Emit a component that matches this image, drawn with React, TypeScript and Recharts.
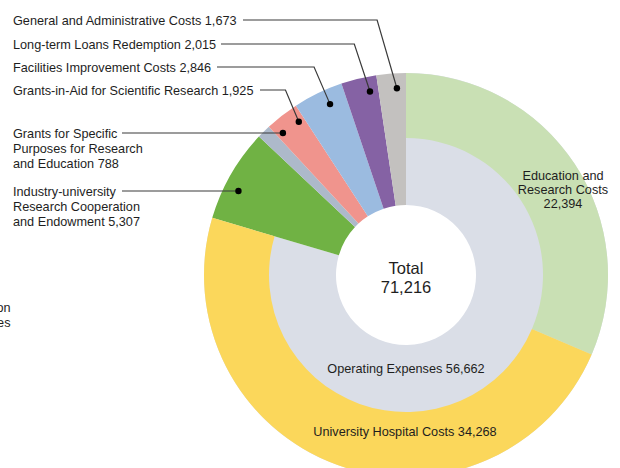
import React from "react";
import { PieChart, Pie, Cell } from "recharts";

// ---- data ----
const outerNames = ["Education and Research Costs", "University Hospital Costs"];
const outerValues = [22394, 34268];
const outerColors = ["#C9E0B4", "#FBD75B"];

const innerNames = [
  "Operating Expenses",
  "Industry-university Research Cooperation and Endowment",
  "Grants for Specific Purposes for Research and Education",
  "Grants-in-Aid for Scientific Research",
  "Facilities Improvement Costs",
  "Long-term Loans Redemption",
  "General and Administrative Costs",
];
const innerValues = [56662, 5307, 788, 1925, 2846, 2015, 1673];
const innerColors = ["#DADEE7", "#70B244", "#ADB9CA", "#F0948D", "#9BBBE0", "#8562A4", "#C3C1BF"];

// label line splits (text only)
const innerLabelLines = [
  ["Operating Expenses"],
  ["Industry-university", "Research Cooperation", "and Endowment"],
  ["Grants for Specific", "Purposes for Research", "and Education"],
  ["Grants-in-Aid for Scientific Research"],
  ["Facilities Improvement Costs"],
  ["Long-term Loans Redemption"],
  ["General and Administrative Costs"],
];
const outerLabelLines = [["Education and", "Research Costs"], ["University Hospital Costs"]];
const totalLabel = "Total";
const croppedLines = ["Operation", "Expenses"];

// ---- layout ----
const W = 620;
const H = 468;
const CX = 406;
const CY = 275;
const R_HOLE = 70;
const R_MID = 137;
const R_OUT = 202;
const FONT = "'Liberation Sans', Arial, Helvetica, sans-serif";
const FS = 12.7;
const TEXT = "#1e1e1e";
const LINE = "#3a3a3a";

// per-index leader layout (inner pie indices 1..6)
const leaderLayout: Record<number, { y: number; from: number; frac: number; elbowK: number | null }> = {
  1: { y: 191, from: 122, frac: 0.37, elbowK: null },
  2: { y: 133, from: 122, frac: 1.4, elbowK: null },
  3: { y: 90, from: 260, frac: 0.8, elbowK: 0.42 },
  4: { y: 67, from: 217, frac: 0.63, elbowK: 0.43 },
  5: { y: 44, from: 221, frac: 0.74, elbowK: 0.33 },
  6: { y: 20, from: 243, frac: 0.67, elbowK: 0.29 },
};

const fmt = (v: number) => v.toLocaleString("en-US");
const total = innerValues.reduce((a, b) => a + b, 0);
const outerSum = outerValues.reduce((a, b) => a + b, 0);

const innerData = innerNames.map((name, i) => ({ name, value: innerValues[i] }));
const outerData = [
  ...outerNames.map((name, i) => ({ name, value: outerValues[i] })),
  { name: "rest", value: total - outerSum },
];

// clockwise degrees from top
const innerStarts: number[] = [];
{
  let acc = 0;
  innerValues.forEach((v) => {
    innerStarts.push((acc / total) * 360);
    acc += v;
  });
}
const polar = (deg: number, r: number) => {
  const a = (deg * Math.PI) / 180;
  return { x: CX + r * Math.sin(a), y: CY - r * Math.cos(a) };
};

const renderInnerLabel = (props: any) => {
  const i = props.index as number;
  if (i === 0) {
    return (
      <g key="lbl-0" fontFamily={FONT}>
        <text x={CX} y={373} textAnchor="middle" fontSize={FS} fill={TEXT}>
          {`${innerLabelLines[0][0]} ${fmt(innerValues[0])}`}
        </text>
        <text x={CX} y={274} textAnchor="middle" fontSize={16.5} fill={TEXT}>
          {totalLabel}
        </text>
        <text x={CX} y={293} textAnchor="middle" fontSize={16.5} fill={TEXT}>
          {fmt(total)}
        </text>
        {croppedLines.map((t, k) => (
          <text key={k} x={10.5} y={312 + k * 15} textAnchor="end" fontSize={FS} fill={TEXT}>
            {t}
          </text>
        ))}
      </g>
    );
  }
  const lay = leaderLayout[i];
  const span = (innerValues[i] / total) * 360;
  const ang = innerStarts[i] + lay.frac * span;
  const dot = polar(ang, 187);
  const lines = innerLabelLines[i];
  const elbowX = lay.elbowK === null ? dot.x : dot.x - lay.elbowK * (dot.y - lay.y);
  const pts =
    lay.elbowK === null
      ? `${lay.from},${lay.y} ${dot.x},${lay.y}`
      : `${lay.from},${lay.y} ${elbowX},${lay.y} ${dot.x},${dot.y}`;
  return (
    <g key={`lbl-${i}`} fontFamily={FONT}>
      <text x={13} y={lay.y + 4.5} fontSize={FS} fill={TEXT}>
        {lines.map((l, k) => (
          <tspan key={k} x={13} dy={k === 0 ? 0 : 15}>
            {k === lines.length - 1 ? `${l} ${fmt(innerValues[i])}` : l}
          </tspan>
        ))}
      </text>
      <polyline points={pts} fill="none" stroke={LINE} strokeWidth={1.2} />
      <circle cx={dot.x} cy={lay.elbowK === null ? lay.y : dot.y} r={3.2} fill="#000" />
    </g>
  );
};

const renderOuterLabel = (props: any) => {
  const i = props.index as number;
  if (i === 0) {
    const lines = [...outerLabelLines[0], fmt(outerValues[0])];
    return (
      <text key="o0" x={563} y={179.5} textAnchor="middle" fontSize={FS} fill={TEXT} fontFamily={FONT}>
        {lines.map((l, k) => (
          <tspan key={k} x={563} dy={k === 0 ? 0 : 14}>
            {l}
          </tspan>
        ))}
      </text>
    );
  }
  if (i === 1) {
    return (
      <text key="o1" x={405} y={435.5} textAnchor="middle" fontSize={FS} fill={TEXT} fontFamily={FONT}>
        {`${outerLabelLines[1][0]} ${fmt(outerValues[1])}`}
      </text>
    );
  }
  return <g key="o2" />;
};

export default function App() {
  return (
    <div style={{ position: "absolute", left: 0, top: 0, width: W, height: H, background: "#fff" }}>
      <PieChart width={W} height={H} margin={{ top: 0, right: 0, bottom: 0, left: 0 }}>
        <Pie
          data={innerData}
          dataKey="value"
          nameKey="name"
          cx={CX}
          cy={CY}
          innerRadius={R_HOLE}
          outerRadius={R_OUT}
          startAngle={90}
          endAngle={-270}
          stroke="none"
          isAnimationActive={false}
          labelLine={false}
          label={renderInnerLabel}
        >
          {innerData.map((d, i) => (
            <Cell key={d.name} fill={innerColors[i]} stroke="none" />
          ))}
        </Pie>
        <Pie
          data={outerData}
          dataKey="value"
          nameKey="name"
          cx={CX}
          cy={CY}
          innerRadius={R_MID}
          outerRadius={R_OUT}
          startAngle={90}
          endAngle={-270}
          stroke="none"
          isAnimationActive={false}
          labelLine={false}
          label={renderOuterLabel}
        >
          {outerData.map((d, i) => (
            <Cell key={d.name} fill={i < outerColors.length ? outerColors[i] : "transparent"} stroke="none" />
          ))}
        </Pie>
      </PieChart>
    </div>
  );
}
